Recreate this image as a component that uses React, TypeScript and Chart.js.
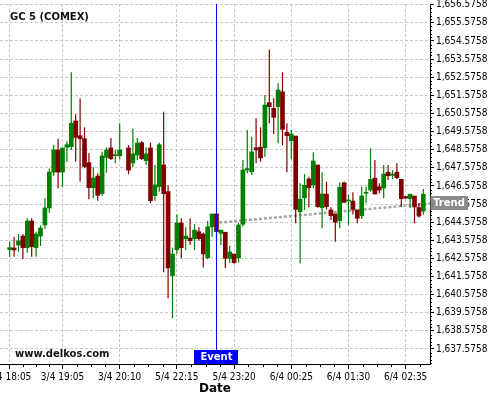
import React, { useEffect, useRef } from 'react';
import { Chart, registerables } from 'chart.js';

Chart.register(...registerables);

// ---- Data (5-minute candles, index based) ----
const candleOpen = [
  1643.06, 1643.15, 1643.31, 1643.81, 1643.17, 1644.64, 1643.17, 1643.81, 1644.42, 1645.36,
  1647.34, 1648.56, 1647.34, 1648.71, 1648.74, 1650.16, 1649.35, 1649.18, 1647.86, 1646.48,
  1647.12, 1646.15, 1648.15, 1648.67, 1648.24, 1648.24, null, 1648.67, 1647.84, 1648.28,
  1648.96, 1647.97, 1648.67, 1646.04, 1646.53, 1647.73, 1646.26, 1641.62, 1643.06, 1644.53,
  1643.66, 1643.70, 1643.66, 1644.05, 1643.92, 1642.61, 1644.32, 1645.03, 1643.96, 1644.02,
  1642.58, 1642.82, 1642.61, 1644.46, 1647.45, 1647.36, 1648.68, 1648.71, 1648.68, 1651.17,
  1650.86, 1650.95, 1651.77, 1649.53, 1649.07, 1649.33, 1645.15, 1645.92, 1646.96, 1646.63,
  1647.73, 1645.37, 1646.13, 1645.25, 1645.03, 1644.66, 1646.75, 1645.74, 1645.74, 1645.25,
  1644.93, 1646.17, 1646.35, 1647.01, 1646.53, 1646.46, 1647.33, 1647.16, 1647.34, 1646.94,
  1645.99, 1645.87, 1646.02, 1645.38, 1645.19,
];
const candleHigh = [
  1643.50, 1643.77, 1643.92, 1643.92, 1644.79, 1644.79, 1644.05, 1644.40, 1645.89, 1647.53,
  1648.85, 1649.18, 1648.67, 1649.04, 1652.85, 1650.53, 1651.41, 1649.81, 1648.38, 1647.60,
  1647.27, 1648.46, 1648.71, 1649.22, 1648.56, 1650.03, null, 1648.83, 1649.75, 1649.22,
  1649.05, 1648.71, 1648.96, 1647.73, 1648.96, 1650.67, 1646.61, 1643.17, 1645.01, 1644.79,
  1644.29, 1644.79, 1644.47, 1644.29, 1643.99, 1644.64, 1645.03, 1645.03, 1644.14, 1644.02,
  1643.28, 1642.82, 1644.55, 1648.01, 1649.66, 1649.29, 1650.31, 1649.81, 1651.59, 1654.11,
  1651.41, 1652.24, 1652.85, 1650.03, 1649.66, 1649.33, 1646.72, 1647.23, 1647.08, 1648.43,
  1647.73, 1647.33, 1646.81, 1645.40, 1645.03, 1646.77, 1646.81, 1646.11, 1646.22, 1645.25,
  1646.53, 1646.53, 1648.65, 1648.00, 1646.72, 1647.73, 1647.73, 1647.44, 1647.82, 1646.94,
  1646.02, 1646.13, 1646.02, 1645.63, 1646.41,
];
const candleLow = [
  1642.64, 1642.67, 1642.94, 1642.53, 1642.89, 1642.67, 1642.67, 1643.26, 1644.21, 1645.10,
  1647.12, 1646.44, 1646.50, 1647.91, 1648.56, 1647.91, 1646.81, 1647.55, 1645.84, 1645.89,
  1645.76, 1646.02, 1647.30, 1648.01, 1647.82, 1648.04, null, 1647.22, 1647.60, 1647.99,
  1648.01, 1647.73, 1645.62, 1645.76, 1646.26, 1641.81, 1640.37, 1639.27, 1642.80, 1642.58,
  1643.04, 1643.31, 1643.04, 1643.55, 1642.08, 1642.53, 1643.77, 1643.54, 1643.31, 1642.03,
  1642.34, 1642.28, 1642.34, 1644.32, 1647.27, 1647.18, 1647.82, 1647.91, 1648.19, 1650.03,
  1649.44, 1648.93, 1648.82, 1647.33, 1648.04, 1644.51, 1642.30, 1645.25, 1645.40, 1646.44,
  1645.37, 1644.24, 1645.28, 1644.69, 1643.50, 1644.24, 1645.62, 1644.42, 1645.00, 1644.51,
  1644.75, 1645.62, 1646.26, 1646.11, 1646.17, 1645.89, 1646.90, 1646.96, 1646.96, 1645.41,
  1645.85, 1645.36, 1644.51, 1644.83, 1644.99,
];
const candleClose = [
  1643.17, 1643.04, 1643.54, 1643.17, 1644.64, 1643.22, 1643.92, 1644.25, 1645.36, 1647.34,
  1648.56, 1647.34, 1648.67, 1648.85, 1650.03, 1649.26, 1649.18, 1647.64, 1646.48, 1647.01,
  1646.06, 1648.23, 1648.56, 1648.08, 1648.30, 1648.56, null, 1647.45, 1648.34, 1648.94,
  1648.08, 1648.34, 1645.76, 1646.63, 1648.85, 1646.15, 1642.05, 1642.82, 1644.53, 1643.17,
  1643.81, 1643.55, 1644.14, 1643.66, 1642.82, 1644.32, 1645.03, 1644.05, 1644.14, 1642.58,
  1642.93, 1642.34, 1644.42, 1647.45, 1647.53, 1648.45, 1648.56, 1648.12, 1651.04, 1650.95,
  1650.36, 1651.87, 1649.70, 1649.35, 1649.44, 1645.28, 1645.85, 1646.61, 1646.48, 1647.95,
  1645.43, 1646.13, 1645.43, 1644.93, 1644.57, 1646.50, 1645.67, 1645.80, 1645.28, 1644.79,
  1646.02, 1646.22, 1646.94, 1646.13, 1646.35, 1647.23, 1647.14, 1647.23, 1647.03, 1645.87,
  1645.91, 1646.12, 1645.41, 1644.91, 1646.12,
];

const xTickIndex = [0, 12, 25, 38, 51, 64, 77, 90];
const xTickLabels = ['3/4 18:05', '3/4 19:05', '3/4 20:10', '5/4 22:15', '5/4 23:20', '6/4 00:25', '6/4 01:30', '6/4 02:35'];

const yTickValues = [
  1637.5758, 1638.5758, 1639.5758, 1640.5758, 1641.5758, 1642.5758, 1643.5758,
  1644.5758, 1645.5758, 1646.5758, 1647.5758, 1648.5758, 1649.5758, 1650.5758,
  1651.5758, 1652.5758, 1653.5758, 1654.5758, 1655.5758, 1656.5758,
];

const eventIndex = 47;
const eventLabel = 'Event';
const trendIndex = [47.6, 95.6];
const trendValue = [1644.55, 1645.61];
const trendLabel = 'Trend';

const chartTitle = 'GC 5 (COMEX)';
const watermark = 'www.delkos.com';
const xAxisTitle = 'Date';

const yMin = 1636.748;
const yMax = 1656.614;
const xMin = -2.205;
const xMax = 95.522;

const UP = '#008000';
const DOWN = '#800000';
const TICK_FONT = "'DejaVu Sans Condensed', 'DejaVu Sans', sans-serif";
const BOLD_FONT = "'DejaVu Sans', sans-serif";

function formatTick(v: number): string {
  const s = v.toFixed(4);
  const [i, d] = s.split('.');
  return i.replace(/\B(?=(\d{3})+(?!\d))/g, ',') + '.' + d;
}

const overlayPlugin = {
  id: 'overlay',
  afterDraw(chart: any) {
    const { ctx, chartArea } = chart;
    const xs = chart.scales.x;
    const ys = chart.scales.y;
    ctx.save();
    // minor ticks
    ctx.strokeStyle = '#000';
    ctx.lineWidth = 1;
    ctx.beginPath();
    for (let k = 0; k < xTickIndex.length; k++) {
      const a = xTickIndex[k];
      const b = k + 1 < xTickIndex.length ? xTickIndex[k + 1] : a + 13;
      for (let m = 1; m < 4; m++) {
        const v = a + ((b - a) * m) / 4;
        if (v > xs.max) continue;
        const px = Math.round(xs.getPixelForValue(v)) + 0.5;
        ctx.moveTo(px, chartArea.bottom);
        ctx.lineTo(px, chartArea.bottom + 3);
      }
    }
    for (let k = 0; k < yTickValues.length; k++) {
      for (let m = 1; m < 5; m++) {
        const v = yTickValues[k] + m * 0.2;
        if (v > ys.max) continue;
        const py = Math.round(ys.getPixelForValue(v)) + 0.5;
        ctx.moveTo(chartArea.right, py);
        ctx.lineTo(chartArea.right + 2, py);
      }
    }
    for (let m = 1; m < 5; m++) {
      const v = yTickValues[0] - m * 0.2;
      if (v < ys.min) continue;
      const py = Math.round(ys.getPixelForValue(v)) + 0.5;
      ctx.moveTo(chartArea.right, py);
      ctx.lineTo(chartArea.right + 2, py);
    }
    ctx.stroke();

    // event label
    const ex = xs.getPixelForValue(eventIndex);
    ctx.fillStyle = '#0000ff';
    ctx.fillRect(Math.round(ex - 22.5), chartArea.bottom - 14, 44, 14);
    ctx.fillStyle = '#ffffff';
    ctx.font = `bold 10px ${BOLD_FONT}`;
    ctx.textAlign = 'center';
    ctx.textBaseline = 'middle';
    ctx.fillText(eventLabel, ex, chartArea.bottom - 7);

    // trend label
    const t = (xs.max - trendIndex[0]) / (trendIndex[1] - trendIndex[0]);
    const tv = trendValue[0] + (trendValue[1] - trendValue[0]) * t;
    const ty = ys.getPixelForValue(tv);
    ctx.fillStyle = '#8a8a8a';
    ctx.fillRect(chartArea.right + 0.5, Math.round(ty - 7), 37.5, 14);
    ctx.fillStyle = '#ffffff';
    ctx.fillText(trendLabel, chartArea.right + 19, ty);

    // title and watermark
    ctx.fillStyle = '#111';
    ctx.textAlign = 'left';
    ctx.textBaseline = 'alphabetic';
    ctx.fillText(chartTitle, 10, 19.5);
    ctx.fillText(watermark, 15, 357);
    ctx.restore();
  },
};

export default function App() {
  const ref = useRef<HTMLCanvasElement | null>(null);
  useEffect(() => {
    if (!ref.current) return;
    const idx: number[] = [];
    candleOpen.forEach((o, i) => { if (o !== null) idx.push(i); });
    const bodies = idx.map((i) => ({ x: i, y: [candleOpen[i] as number, candleClose[i] as number] }));
    const wicks = idx.map((i) => ({ x: i, y: [candleLow[i] as number, candleHigh[i] as number] }));
    const colors = idx.map((i) => ((candleClose[i] as number) >= (candleOpen[i] as number) ? UP : DOWN));

    const gridCommon = {
      color: '#c8c8c8',
      lineWidth: 1,
      tickColor: '#000',
      drawTicks: true,
    };

    const chart = new Chart(ref.current, {
      type: 'bar',
      data: {
        datasets: [
          {
            type: 'line',
            label: 'Event',
            data: [{ x: eventIndex, y: yMin }, { x: eventIndex, y: yMax }],
            borderColor: '#0000ff',
            borderWidth: 1,
            pointRadius: 0,
            fill: false,
          } as any,
          {
            type: 'bar',
            label: 'Body',
            data: bodies,
            backgroundColor: colors,
            borderWidth: 0,
            barThickness: 4,
            grouped: false,
          } as any,
          {
            type: 'bar',
            label: 'Wick',
            data: wicks,
            backgroundColor: colors,
            borderWidth: 0,
            barThickness: 1.2,
            inflateAmount: 0,
            grouped: false,
          } as any,
          {
            type: 'line',
            label: 'Trend',
            data: trendIndex.map((x, i) => ({ x, y: trendValue[i] })),
            borderColor: '#a8a8a8',
            borderWidth: 2.5,
            borderDash: [3, 2],
            pointRadius: 0,
            fill: false,
          } as any,
        ],
      },
      options: {
        animation: false,
        responsive: false,
        events: [],
        layout: { padding: { top: 4, left: 0, right: 0, bottom: 0 } },
        plugins: {
          legend: { display: false },
          tooltip: { enabled: false },
          title: { display: false },
        },
        scales: {
          x: {
            type: 'linear',
            min: xMin,
            max: xMax,
            offset: false,
            bounds: 'data',
            afterBuildTicks: (s: any) => {
              s.ticks = xTickIndex.map((v) => ({ value: v }));
            },
            afterFit: (s: any) => {
              s.height = 36;
              s.paddingLeft = 0;
              s.paddingRight = 0;
            },
            ticks: {
              autoSkip: false,
              maxRotation: 0,
              minRotation: 0,
              padding: 2,
              color: '#000',
              font: { family: TICK_FONT, size: 10 },
              callback: (_v: any, i: number) => xTickLabels[i],
            },
            grid: { ...gridCommon, offset: false, tickLength: 5 },
            border: { display: true, color: '#000', width: 1, dash: [3, 2] },
            title: {
              display: true,
              text: xAxisTitle,
              color: '#000',
              font: { family: BOLD_FONT, size: 12, weight: 'bold' },
              padding: { top: 0, bottom: 4 },
            },
          },
          y: {
            type: 'linear',
            position: 'right',
            min: yMin,
            max: yMax,
            bounds: 'data',
            afterBuildTicks: (s: any) => {
              s.ticks = yTickValues.map((v) => ({ value: v }));
            },
            afterFit: (s: any) => {
              s.width = 70;
              s.paddingTop = 0;
              s.paddingBottom = 0;
            },
            ticks: {
              padding: 2,
              color: '#000',
              font: { family: TICK_FONT, size: 10 },
              callback: (v: any) => formatTick(Number(v)),
            },
            grid: { ...gridCommon, tickLength: 4 },
            border: { display: true, color: '#000', width: 1, dash: [3, 2] },
          },
        },
      } as any,
      plugins: [overlayPlugin],
    });
    return () => chart.destroy();
  }, []);

  return (
    <div style={{ position: 'absolute', left: 0, top: 0, width: 500, height: 400, background: '#fff' }}>
      <canvas ref={ref} width={500} height={400} />
    </div>
  );
}
